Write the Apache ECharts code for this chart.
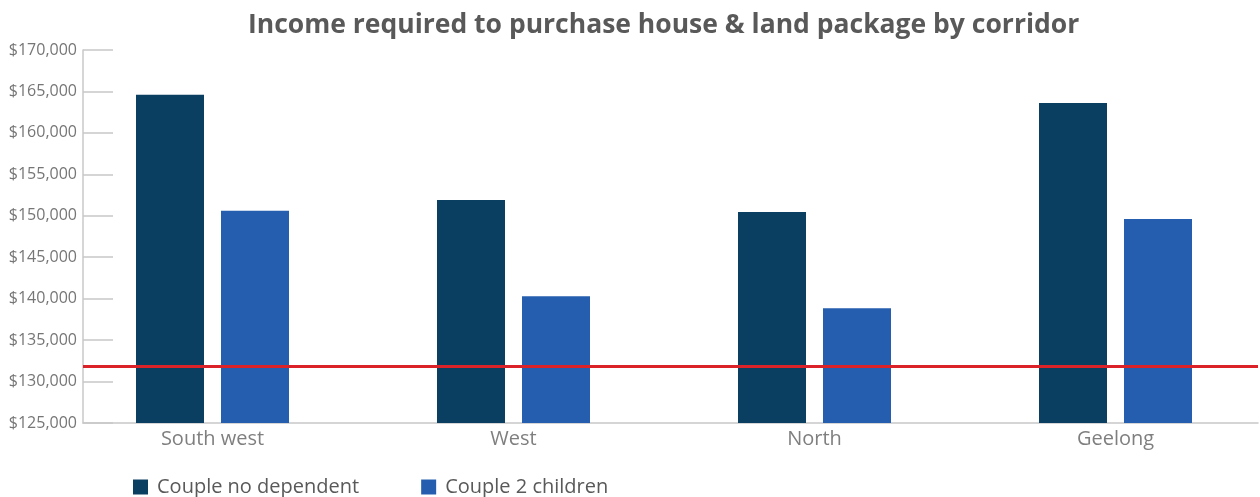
<!DOCTYPE html>
<html>
<head>
<meta charset="utf-8">
<script src="https://cdn.jsdelivr.net/npm/echarts@6/dist/echarts.min.js"></script>
<style>
html,body{margin:0;padding:0;background:#fff;}
#chart{width:1260px;height:497px;}
</style>
</head>
<body>
<div id="chart"></div>
<script>
const titleText = 'Income required to purchase house & land package by corridor';
const categories = ['South west', 'West', 'North', 'Geelong'];
const seriesNames = ['Couple no dependent', 'Couple 2 children'];
const coupleNoDependent = [164600, 151900, 150450, 163600];
const couple2Children = [150600, 140300, 138850, 149600];
const thresholdIncome = 131900;
const yMin = 125000, yMax = 170000, yStep = 5000;

const FONT = "'Open Sans', sans-serif";
const chart = echarts.init(document.getElementById('chart'), null, {renderer: 'canvas'});

function money(v) {
  return '$' + v.toString().replace(/\B(?=(\d{3})+(?!\d))/g, ',');
}

chart.setOption({
  animation: false,
  backgroundColor: '#ffffff',
  title: {
    text: titleText,
    left: 243,
    top: 7,
    textStyle: {fontFamily: FONT, fontWeight: 'bold', fontSize: 26.5, color: '#595959'}
  },
  legend: {
    data: seriesNames,
    left: 128,
    top: 472,
    icon: 'rect',
    itemWidth: 15,
    itemHeight: 15,
    itemGap: 62,
    textStyle: {fontFamily: FONT, fontSize: 20, color: '#595959', padding: [0, 0, 0, 4]}
  },
  grid: [
    {left: 62, width: 1204, top: 50, height: 373, containLabel: false, outerBoundsMode: 'none'},
    {left: 83, right: 2, top: 50, height: 373, containLabel: false, outerBoundsMode: 'none'}
  ],
  xAxis: [
    {
      type: 'category', gridIndex: 0, data: categories,
      axisLine: {show: false}, axisTick: {show: false},
      axisLabel: {fontFamily: FONT, fontSize: 20, color: '#7f7f7f', margin: 6}
    },
    {
      type: 'value', gridIndex: 1, min: 0, max: 1,
      axisLine: {show: true, lineStyle: {color: '#c8c8c8', width: 1.5}},
      axisTick: {show: false}, axisLabel: {show: false}, splitLine: {show: false}
    }
  ],
  yAxis: [
    {
      type: 'value', gridIndex: 0, min: yMin, max: yMax, interval: yStep, offset: -21,
      axisLine: {show: true, lineStyle: {color: '#c8c8c8', width: 1.5}},
      axisTick: {show: true, inside: true, length: 30, lineStyle: {color: '#c8c8c8', width: 1.5}},
      splitLine: {show: false},
      axisLabel: {fontFamily: FONT, fontSize: 16, color: '#767676', margin: 6, formatter: money}
    },
    {
      type: 'value', gridIndex: 1, min: yMin, max: yMax, show: false
    }
  ],
  series: [
    {
      name: seriesNames[0], type: 'bar', xAxisIndex: 0, yAxisIndex: 0,
      data: coupleNoDependent, barWidth: 68, barGap: '25%',
      itemStyle: {color: '#0b3f62'}
    },
    {
      name: seriesNames[1], type: 'bar', xAxisIndex: 0, yAxisIndex: 0,
      data: couple2Children, barWidth: 68, barGap: '25%',
      itemStyle: {color: '#255eae'}
    },
    {
      name: 'Threshold', type: 'line', xAxisIndex: 1, yAxisIndex: 1,
      data: [], silent: true,
      markLine: {
        silent: true, symbol: 'none',
        label: {show: false},
        lineStyle: {color: '#dc2229', width: 3, type: 'solid'},
        data: [{yAxis: thresholdIncome}]
      }
    }
  ]
});
</script>
</body>
</html>
